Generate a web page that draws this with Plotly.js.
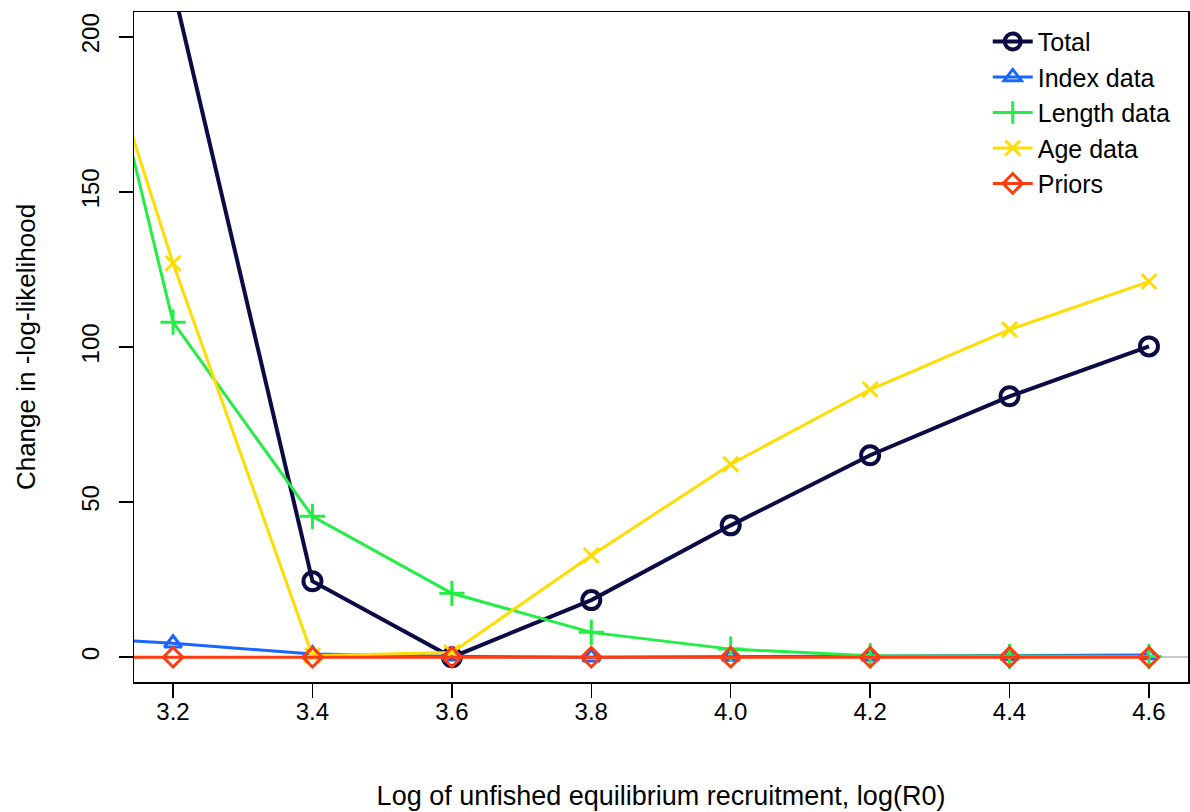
<!DOCTYPE html>
<html>
<head>
<meta charset="utf-8">
<script src="https://cdn.plot.ly/plotly-3.0.1.min.js"></script>
<style>html,body{margin:0;padding:0;background:#fff;}#chart{width:1190px;height:812px;}</style>
</head>
<body>
<div id="chart"></div>
<script>
const logR0 = [3.0, 3.2, 3.4, 3.6, 3.8, 4.0, 4.2, 4.4, 4.6];
const totalLL  = [430, 216, 24.5, 0, 18.4, 42.5, 65.1, 84.1, 100.2];
const indexLL  = [7.0, 4.5, 1.0, 0.3, 0.0, 0.2, 0.3, 0.5, 0.7];
const lengthLL = [294, 108, 45.4, 20.6, 8.0, 2.6, 0.5, 0.3, 0.2];
const ageLL    = [268, 127, 0.5, 1.5, 32.8, 62.2, 86.3, 105.6, 121.1];
const priorLL  = [0, 0, 0, 0, 0, 0, 0, 0, 0];
const seriesNames = ["Total", "Index data", "Length data", "Age data", "Priors"];
const xTicks = [3.2, 3.4, 3.6, 3.8, 4.0, 4.2, 4.4, 4.6];
const yTicks = [0, 50, 100, 150, 200];

function tr(name, y, color, symbol, lw, msize, mlw) {
  return {
    x: logR0, y: y, name: name, type: 'scatter', mode: 'lines+markers',
    line: {color: color, width: lw},
    marker: {symbol: symbol, size: msize, color: color, line: {color: color, width: mlw}},
    cliponaxis: true
  };
}
const data = [
  tr(seriesNames[0], totalLL, '#0b0b45', 'circle-open', 4, 18, 4),
  tr(seriesNames[1], indexLL, '#1866ff', 'triangle-up-open', 3, 15, 3),
  tr(seriesNames[2], lengthLL, '#22ee44', 'cross-thin-open', 3, 18, 3),
  tr(seriesNames[3], ageLL, '#ffdd00', 'x-thin-open', 3, 15, 3),
  tr(seriesNames[4], priorLL, '#ff3c10', 'diamond-open', 3, 15, 3)
];
const font = {family: 'Liberation Sans, Arial, sans-serif', color: '#000'};
const layout = {
  width: 1190, height: 812,
  margin: {l: 134, r: 2, t: 12, b: 130},
  paper_bgcolor: '#fff', plot_bgcolor: '#fff',
  font: Object.assign({size: 24}, font),
  showlegend: true,
  legend: {x: 0.81, y: 0.99, xanchor: 'left', yanchor: 'top', bgcolor: 'rgba(0,0,0,0)',
           font: Object.assign({size: 25}, font), tracegroupgap: 0, itemwidth: 40},
  xaxis: {
    range: [3.144, 4.656], tickvals: xTicks, tickformat: '.1f',
    ticks: 'outside', ticklen: 14, tickwidth: 1.5, tickcolor: '#000',
    showline: true, linecolor: '#000', linewidth: 1.5, mirror: true,
    showgrid: false, zeroline: false, tickfont: Object.assign({size: 24}, font),
    ticklabelstandoff: -6,
    title: {text: 'Log of unfished equilibrium recruitment, log(R0)', font: Object.assign({size: 27}, font), standoff: 62}
  },
  yaxis: {
    range: [-8, 208], tickvals: yTicks, tickangle: -90,
    ticks: 'outside', ticklen: 14, tickwidth: 1.5, tickcolor: '#000',
    showline: true, linecolor: '#000', linewidth: 1.5, mirror: true,
    showgrid: false, zeroline: true, zerolinecolor: '#c8c8c8', zerolinewidth: 2,
    tickfont: Object.assign({size: 24}, font),
    ticklabelstandoff: 10,
    title: {text: 'Change in -log-likelihood', font: Object.assign({size: 26}, font), standoff: 34}
  }
};
Plotly.newPlot('chart', data, layout, {displayModeBar: false, staticPlot: true});
</script>
</body>
</html>
